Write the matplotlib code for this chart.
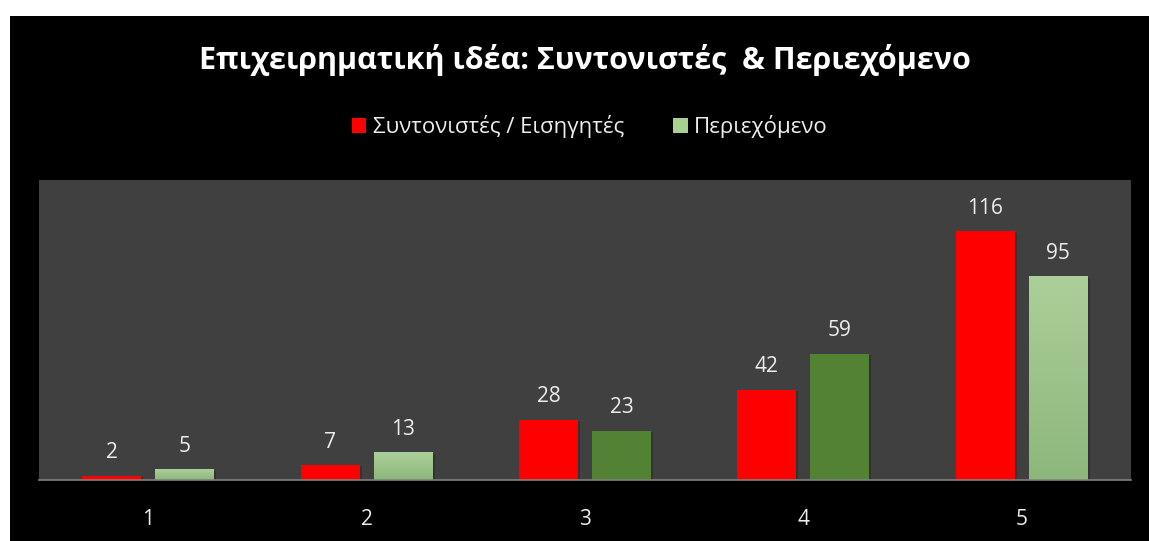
"""Grouped bar chart: Επιχειρηματική ιδέα - Συντονιστές & Περιεχόμενο."""

import numpy as np
import matplotlib
matplotlib.use("Agg")
import matplotlib.pyplot as plt
from matplotlib.patches import Patch, Rectangle
from matplotlib.colors import LinearSegmentedColormap
import matplotlib.patheffects as pe

plt.rcParams["font.family"] = ["Open Sans", "DejaVu Sans"]

# data
categories = ["1", "2", "3", "4", "5"]
series_names = ["Συντονιστές / Εισηγητές", "Περιεχόμενο"]
coordinators = [2, 7, 28, 42, 116]
content = [5, 13, 23, 59, 95]
title = "Επιχειρηματική ιδέα: Συντονιστές  & Περιεχόμενο"

# styles
RED = "#FF0000"
LIGHT_GREEN = "#A9D08E"
DARK_GREEN = "#548235"
content_colors = [LIGHT_GREEN, LIGHT_GREEN, DARK_GREEN, DARK_GREEN, LIGHT_GREEN]
green_grad = LinearSegmentedColormap.from_list("g", ["#8DB77A", "#ABCF98"])
TEXT = "#EDEDED"

W, H = 1149, 541
fig = plt.figure(figsize=(W / 100, H / 100), dpi=100, facecolor="white")
# black chart area with thin white margin at top/left
fig.patches.append(Rectangle((10 / W, 0), 1 - 10 / W, 1 - 16 / H,
                             transform=fig.transFigure, facecolor="black",
                             edgecolor="none", zorder=-5))

ax = fig.add_axes([39 / W, (H - 480) / H, (1131 - 39) / W, (480 - 180) / H])
ax.set_facecolor("#404040")

x = np.arange(len(categories))
width = 0.27
off = 0.167
shadow = [pe.SimplePatchShadow(offset=(1.5, -1), shadow_rgbFace="black", alpha=0.2), pe.Normal()]

b1 = ax.bar(x - off, coordinators, width, color=RED, zorder=3)
b2 = ax.bar(x + off, content, width, color=content_colors, zorder=3)
for bar in list(b1) + list(b2):
    bar.set_path_effects(shadow)

ax.set_xlim(-0.5, len(categories) - 0.5)
ax.set_ylim(0, 140)

# gradient fill for the light green bars
for bar, c in zip(b2, content_colors):
    if c != LIGHT_GREEN:
        continue
    x0, w, h = bar.get_x(), bar.get_width(), bar.get_height()
    im = ax.imshow(np.linspace(0, 1, 100).reshape(-1, 1), cmap=green_grad,
                   extent=(x0, x0 + w, 0, h), origin="lower", aspect="auto", zorder=4)
    im.set_clip_path(bar)

ax.bar_label(b1, padding=9, color=TEXT, fontsize=15)
ax.bar_label(b2, padding=9, color=TEXT, fontsize=15)

ax.set_xticks(x)
ax.set_xticklabels(categories, color=TEXT, fontsize=15)
ax.tick_params(axis="x", length=0, pad=21)
ax.set_yticks([])
for side in ["top", "left", "right"]:
    ax.spines[side].set_visible(False)
ax.spines["bottom"].set_color("#808080")
ax.spines["bottom"].set_linewidth(1.2)
ax.spines["bottom"].set_zorder(5)

fig.text(585 / W, 1 - 60 / H, title, color="white", fontsize=22,
         fontweight="bold", ha="center", va="center")

handles = [Patch(facecolor=RED), Patch(facecolor=LIGHT_GREEN)]
fig.legend(handles, series_names, loc="center", bbox_to_anchor=(590 / W, 1 - 127 / H),
           ncol=2, frameon=False, fontsize=16, labelcolor=TEXT,
           handlelength=0.65, handleheight=0.65, handletextpad=0.3, columnspacing=2.2)

fig.savefig("out.png", dpi=100, facecolor=fig.get_facecolor())
